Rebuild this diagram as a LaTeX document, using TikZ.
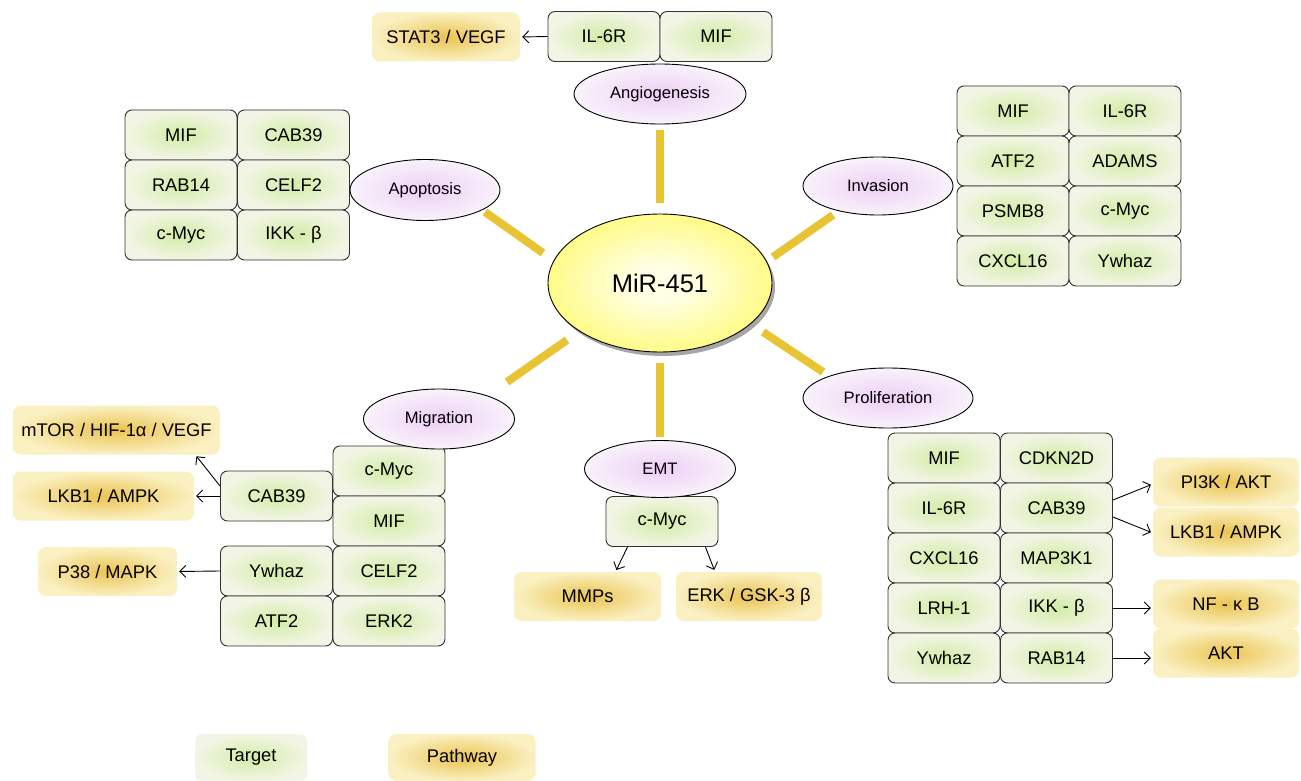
\documentclass[tikz,border=0pt]{standalone}
\usepackage{fontspec}
\setmainfont{Liberation Sans}
\usetikzlibrary{shapes.geometric,shadows,arrows.meta,calc}
\definecolor{tgin}{HTML}{D3ECA6}
\definecolor{tgout}{HTML}{F2F5E5}
\definecolor{pwin}{HTML}{EBC451}
\definecolor{pwout}{HTML}{FAF0C2}
\definecolor{prin}{HTML}{EDCFF5}
\definecolor{prout}{HTML}{F9F2FB}
\definecolor{mirin}{HTML}{FFFFE6}
\definecolor{mirout}{HTML}{FFF733}
\definecolor{spokec}{HTML}{E8C434}
\pgfdeclareradialshading{mirsh}{\pgfpoint{0bp}{0bp}}{color(0bp)=(mirin); color(6bp)=(mirin); color(42bp)=(mirout); color(50bp)=(mirout)}
\begin{document}
\begin{tikzpicture}[x=1pt,y=-1pt,
  tgt/.style={draw=black!80, line width=0.9pt, rounded corners=7pt,
    minimum width=112pt, minimum height=50pt, inner sep=0pt,
    inner color=tgin, outer color=tgout, font=\fontsize{18.3}{20}\selectfont},
  legt/.style={rounded corners=7pt, minimum width=112pt, minimum height=47pt, inner sep=0pt,
    inner color=tgin, outer color=tgout, font=\fontsize{18.3}{20}\selectfont},
  pw/.style={rounded corners=8pt, minimum height=49pt, minimum width=#1, inner sep=0pt,
    inner color=pwin, outer color=pwout, font=\fontsize{18.3}{20}\selectfont},
  proc/.style={ellipse, draw=black, line width=0.9pt, inner sep=0pt,
    inner color=prin, outer color=prout, font=\fontsize{16.6}{18}\selectfont},
  spoke/.style={draw=spokec, line width=8pt},
  arr/.style={draw=black, line width=0.9pt, -{Straight Barb[length=6pt,width=12pt]}, shorten >=2pt}
]
\useasboundingbox (0,0) rectangle (1301,781);
\fill[white] (0,0) rectangle (1301,781);

% spokes
\coordinate (s1a) at (660,130); \coordinate (s1b) at (660,203);
\coordinate (s2a) at (485,212); \coordinate (s2b) at (543,253);
\coordinate (s3a) at (773,257); \coordinate (s3b) at (833,215);
\coordinate (s4a) at (567,340); \coordinate (s4b) at (507,382);
\coordinate (s5a) at (660,363); \coordinate (s5b) at (660,437);
\coordinate (s6a) at (763,332); \coordinate (s6b) at (823,372);
\foreach \a/\b in {s1a/s1b,s2a/s2b,s3a/s3b,s4a/s4b,s5a/s5b,s6a/s6b}
  \draw[spoke] (\a) -- (\b);

% centre
\node[ellipse, draw=black, line width=0.9pt, minimum width=224pt, minimum height=138pt,
  shading=mirsh, drop shadow={shadow xshift=3pt, shadow yshift=-4pt, fill=black!35, opacity=1},
  font=\fontsize{25.5}{28}\selectfont] (mir) at (660,283) {MiR-451};

% Angiogenesis
\node[tgt] (a1) at (604,36.5) {IL-6R};
\node[tgt] (a2) at (716,36.5) {MIF};
\node[pw=148pt] (ap1) at (446,37) {STAT3 / VEGF};
\node[proc, minimum width=172pt, minimum height=60pt] (angio) at (660,94) {Angiogenesis};
\draw[arr] (a1.west) -- (ap1.east);

% Apoptosis
\node[tgt] (p11) at (181,135) {MIF};
\node[tgt] (p12) at (293.5,135) {CAB39};
\node[tgt] (p21) at (181,185) {RAB14};
\node[tgt] (p22) at (293.5,185) {CELF2};
\node[tgt] (p31) at (181,235) {c-Myc};
\node[tgt] (p32) at (293.5,235) {IKK - β};
\node[proc, minimum width=150pt, minimum height=61pt] (apop) at (425,190) {Apoptosis};

% Invasion
\node[tgt] (i11) at (1013,111) {MIF};
\node[tgt] (i12) at (1125,111) {IL-6R};
\node[tgt] (i21) at (1013,161) {ATF2};
\node[tgt] (i22) at (1125,161) {ADAMS};
\node[tgt] (i31) at (1013,211) {PSMB8};
\node[tgt] (i32) at (1125,211) {c-Myc};
\node[tgt] (i41) at (1013,261) {CXCL16};
\node[tgt] (i42) at (1125,261) {Ywhaz};
\node[proc, minimum width=150pt, minimum height=58pt] (inv) at (878,186) {Invasion};

% Migration
\node[tgt] (m1) at (389,471) {c-Myc};
\node[tgt] (m2) at (389,521) {MIF};
\node[tgt] (m3) at (389,571) {CELF2};
\node[tgt] (m4) at (389,621) {ERK2};
\node[tgt] (mcab) at (276.5,496) {CAB39};
\node[tgt] (mywh) at (276.5,571) {Ywhaz};
\node[tgt] (matf) at (276.5,621) {ATF2};
\node[pw=207pt] (mp1) at (116.5,430) {mTOR / HIF-1α / VEGF};
\node[pw=181pt] (mp2) at (103.5,496) {LKB1 / AMPK};
\node[pw=139pt] (mp3) at (107.5,571.5) {P38 / MAPK};
\node[proc, minimum width=151pt, minimum height=60pt] (mig) at (439,419) {Migration};
\draw[arr] ($(mcab.west)+(0,-10)$) -- ($(mp1.south east)+(-25,0)$);
\draw[arr] (mcab.west) -- (mp2.east);
\draw[arr] (mywh.west) -- (mp3.east);

% EMT
\node[tgt] (ec) at (662,521.5) {c-Myc};
\node[pw=147pt] (ep1) at (587.5,596.5) {MMPs};
\node[pw=146pt] (ep2) at (749,596.5) {ERK / GSK-3 β};
\node[proc, minimum width=151pt, minimum height=57pt] (emt) at (660,469) {EMT};
\draw[arr] ($(ec.south west)+(22,0)$) -- ($(ep1.north)+(28,0)$);
\draw[arr] ($(ec.south east)+(-13,0)$) -- ($(ep2.north)+(-34,0)$);

% Proliferation
\node[tgt] (r11) at (944,458) {MIF};
\node[tgt] (r12) at (1056.5,458) {CDKN2D};
\node[tgt] (r21) at (944,508) {IL-6R};
\node[tgt] (r22) at (1056.5,508) {CAB39};
\node[tgt] (r31) at (944,558) {CXCL16};
\node[tgt] (r32) at (1056.5,558) {MAP3K1};
\node[tgt] (r41) at (944,608) {LRH-1};
\node[tgt] (r42) at (1056.5,608) {IKK - β};
\node[tgt] (r51) at (944,658) {Ywhaz};
\node[tgt] (r52) at (1056.5,658) {RAB14};
\node[pw=146pt] (rp1) at (1226,482) {PI3K / AKT};
\node[pw=146pt] (rp2) at (1226,532) {LKB1 / AMPK};
\node[pw=146pt] (rp3) at (1226,604) {NF - κ B};
\node[pw=146pt] (rp4) at (1226,653) {AKT};
\node[proc, minimum width=170pt, minimum height=60pt] (prol) at (888,398) {Proliferation};
\draw[arr] ($(r22.east)+(0,-8)$) -- ($(rp1.west)+(0,2)$);
\draw[arr] ($(r22.east)+(0,9)$) -- ($(rp2.west)+(0,1)$);
\draw[arr] (r42.east) -- (rp3.west |- r42.east);
\draw[arr] (r52.east) -- (rp4.west |- r52.east);

% legend
\node[legt] (lt) at (251,757.5) {Target};
\node[pw=147pt, minimum height=47pt] (lp) at (462,757.5) {Pathway};
\end{tikzpicture}
\end{document}
